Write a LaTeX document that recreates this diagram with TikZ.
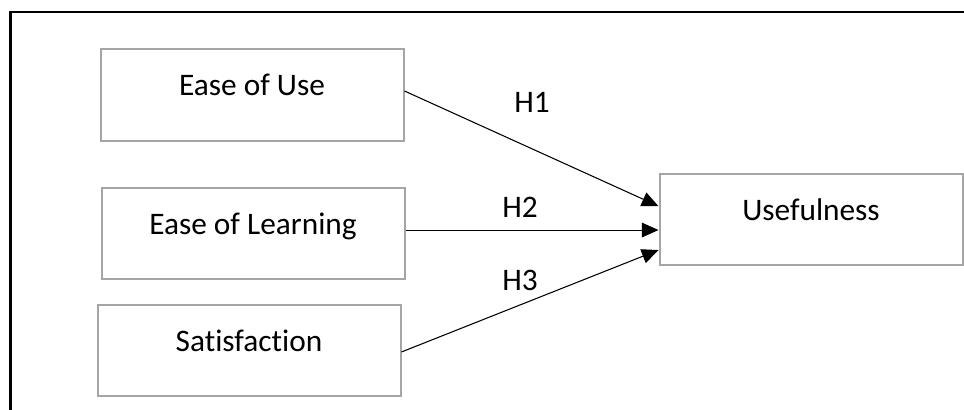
\documentclass[tikz,border=0pt]{standalone}
\usepackage{fontspec}
\setmainfont{Carlito}[Ligatures={NoCommon}]
\usetikzlibrary{arrows.meta}
\definecolor{boxgray}{HTML}{A5A5A5}
\tikzset{
  box/.style={draw=boxgray, line width=1.5pt, rectangle, fill=white,
    minimum width=303*0.75pt, inner xsep=0pt, inner ysep=0pt,
    text height=34.5pt, text depth=33.75pt,
    font=\fontsize{23.5}{28}\selectfont},
  hlabel/.style={font=\fontsize{23.5}{28}\selectfont, inner sep=0pt},
  conn/.style={line width=0.8pt, -{Triangle[length=12.5pt,width=11pt]}},
  frameline/.style={line width=1.6pt, line cap=rect}
}
\begin{document}
\begin{tikzpicture}[x=0.75pt, y=-0.75pt]
\useasboundingbox (0,0) rectangle (964,410);
% outer frame (top and left visible)
\coordinate (ftl) at (10.5,12);
\coordinate (ftr) at (966,12);
\coordinate (fbl) at (10.5,412);
\draw[frameline] (ftr) -- (ftl) -- (fbl);
% boxes
\node[box] (eou) at (252,95) {Ease of Use};
\node[box] (eol) at (253,233.5) {Ease of Learning};
\node[box] (sat) at (249,350.5) {Satisfaction};
\node[box] (use) at (811,219.5) {Usefulness};
% connectors
\draw[conn] ([yshift=3pt]eou.east) -- ([yshift=10pt]use.west);
\draw[conn] ([yshift=2.6pt]eol.east) -- ([yshift=-7.9pt]use.west);
\draw[conn] ([yshift=-1.1pt]sat.east) -- ([yshift=-22.9pt]use.west);
% labels
\node[hlabel] (h1) at (532,102) {H1};
\node[hlabel] (h2) at (520,207) {H2};
\node[hlabel] (h3) at (520,280) {H3};
\end{tikzpicture}
\end{document}
